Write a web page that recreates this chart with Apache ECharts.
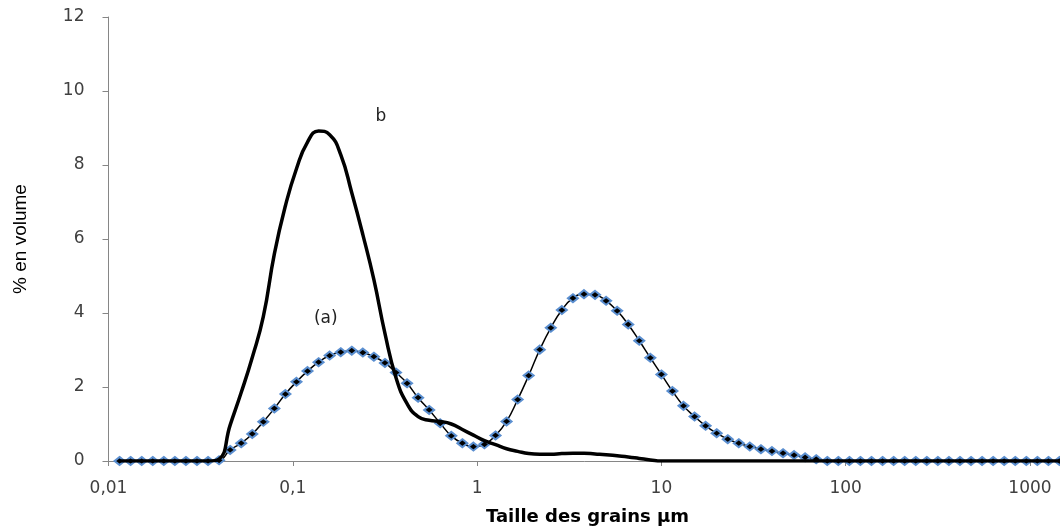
<!DOCTYPE html>
<html>
<head>
<meta charset="utf-8">
<script src="https://cdn.jsdelivr.net/npm/echarts@6/dist/echarts.min.js"></script>
<style>html,body{margin:0;padding:0;background:#fff}#c{width:1060px;height:528px}</style>
</head>
<body>
<div id="c"></div>
<script>
// Grain size classes (µm)
const sizes = [0.01148,0.01318,0.01514,0.01738,0.01995,0.02291,0.0263,0.0302,0.03467,0.03981,
0.04571,0.05248,0.06026,0.06918,0.07943,0.0912,0.1047,0.1202,0.138,0.1585,
0.182,0.2089,0.2399,0.2754,0.3162,0.3631,0.4169,0.4786,0.5495,0.631,
0.7244,0.8318,0.955,1.096,1.259,1.445,1.66,1.905,2.188,2.512,
2.884,3.311,3.802,4.365,5.012,5.754,6.607,7.586,8.71,10.0,
11.48,13.18,15.14,17.38,19.95,22.91,26.3,30.2,34.67,39.81,
45.71,52.48,60.26,69.18,79.43,91.2,104.7,120.2,138.0,158.5,
182.0,208.9,239.9,275.4,316.2,363.1,416.9,478.6,549.5,631.0,
724.4,831.8,955.0,1096,1259,1445,1660,1905,2188,2512];
// Series (a): % en volume
const seriesA = [0,0,0,0,0,0,0,0,0,0.02,
0.3,0.48,0.73,1.06,1.42,1.81,2.14,2.43,2.67,2.85,
2.94,2.98,2.93,2.82,2.65,2.39,2.10,1.71,1.38,1.02,
0.68,0.48,0.39,0.45,0.69,1.07,1.66,2.31,3.01,3.60,
4.08,4.40,4.51,4.49,4.33,4.06,3.69,3.25,2.79,2.34,
1.89,1.49,1.20,0.95,0.75,0.59,0.48,0.39,0.32,0.27,
0.21,0.16,0.10,0.05,0,0,0,0,0,0,
0,0,0,0,0,0,0,0,0,0,
0,0,0,0,0,0,0,0,0,0];
// Series b: % en volume
const seriesB = [0,0,0,0,0,0,0,0,0,0.05,
0.97,1.85,2.8,3.9,5.6,6.9,7.9,8.62,8.92,8.82,
8.28,7.25,6.12,4.9,3.45,2.25,1.55,1.2,1.1,1.07,
1.0,0.85,0.7,0.55,0.44,0.33,0.26,0.2,0.18,0.18,
0.2,0.21,0.21,0.19,0.17,0.14,0.11,0.07,0.03,0,
0,0,0,0,0,0,0,0,0,0,
0,0,0,0,0,0,0,0,0,0,
0,0,0,0,0,0,0,0,0,0,
0,0,0,0,0,0,0,0,0,0];
const xTickValues = [0.01,0.1,1,10,100,1000];
const xTickLabels = ['0,01','0,1','1','10','100','1000'];
const yTicks = [0,2,4,6,8,10,12];
const labelA = {text:'(a)', x:0.151, y:3.86};
const labelB = {text:'b', x:0.301, y:9.32};

const dataA = sizes.map((s,i)=>[s, seriesA[i]]);
const dataB = sizes.map((s,i)=>[s, seriesB[i]]);

function xLabel(v){
  for (let i=0;i<xTickValues.length;i++){
    if (Math.abs(Math.log10(v)-Math.log10(xTickValues[i]))<1e-6) return xTickLabels[i];
  }
  return '';
}

const chart = echarts.init(document.getElementById('c'), null, {renderer:'canvas'});
const tickFont = {fontFamily:'DejaVu Sans', fontSize:17, color:'#404040'};
chart.setOption({
  animation:false,
  backgroundColor:'#fff',
  grid:{left:108.5, top:17, right:0, bottom:67},
  xAxis:{
    type:'log', logBase:10, min:0.01, max:1455,
    axisLine:{lineStyle:{color:'#868686', width:1}},
    axisTick:{show:true, length:5, lineStyle:{color:'#868686'}},
    minorTick:{show:false},
    splitLine:{show:false},
    axisLabel:Object.assign({margin:19, showMaxLabel:false, formatter:xLabel}, tickFont)
  },
  yAxis:{
    type:'value', min:yTicks[0], max:yTicks[yTicks.length-1], interval:2,
    name:'% en volume', nameLocation:'middle', nameRotate:90, nameGap:78,
    nameTextStyle:{fontFamily:'Liberation Sans', fontSize:19, color:'#000'},
    axisLine:{show:true, lineStyle:{color:'#868686', width:1}},
    axisTick:{show:true, length:6, lineStyle:{color:'#868686'}},
    splitLine:{show:false},
    axisLabel:Object.assign({margin:24}, tickFont)
  },
  graphic:[{
    type:'text', left:596-110, top:508,
    style:{text:'Taille des grains µm', font:'bold 18px "DejaVu Sans"', fill:'#000', width:220, align:'center'}
  }],
  series:[
    {
      name:'(a)', type:'line', data:dataA, smooth:0.5,
      symbol:'diamond', symbolSize:[10,8], showAllSymbol:true,
      lineStyle:{color:'#000', width:1.5},
      itemStyle:{color:'#000', borderColor:'#5B8FD0', borderWidth:2},
      z:2,
      markPoint:{
        symbol:'circle', symbolSize:0,
        label:{show:true, position:'inside', fontFamily:'DejaVu Sans', fontSize:17, color:'#222', formatter:p=>p.name},
        data:[{name:labelA.text, coord:[labelA.x, labelA.y]},{name:labelB.text, coord:[labelB.x, labelB.y]}]
      }
    },
    {
      name:'b', type:'line', data:dataB, smooth:0.5, symbol:'none',
      lineStyle:{color:'#000', width:3.5}, z:3
    }
  ]
});
</script>
</body>
</html>
